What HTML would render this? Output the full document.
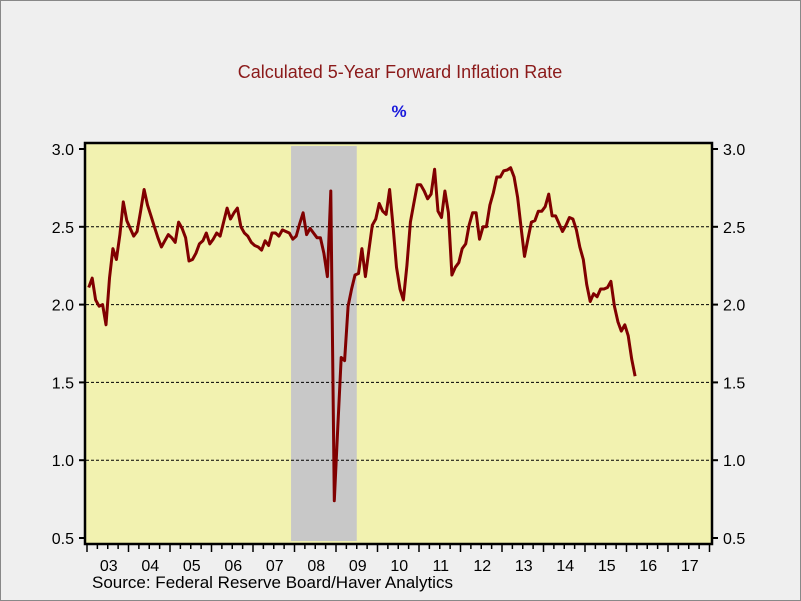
<!DOCTYPE html>
<html><head><meta charset="utf-8"><style>
html,body{margin:0;padding:0;background:#efefef;}
svg{display:block;font-family:"Liberation Sans",Arial,sans-serif;}
</style></head><body>
<svg id="chart" width="801" height="601" viewBox="0 0 801 601" xmlns="http://www.w3.org/2000/svg">
<rect x="0.5" y="0.5" width="800" height="600" fill="#efefef" stroke="#888" stroke-width="1"/>
<text x="400" y="78" text-anchor="middle" font-size="18" fill="#8b1a1a">Calculated 5-Year Forward Inflation Rate</text>
<text x="399" y="117" text-anchor="middle" font-size="17" font-weight="bold" fill="#1a1adc">%</text>
<rect x="85" y="143" width="627" height="401" fill="#f2f2b0"/>
<g id="shade"></g>
<g id="grid"></g>
<g id="series"></g>
<rect x="85" y="143" width="627" height="401" fill="none" stroke="#000" stroke-width="2.5"/>
<g id="axes"></g>
<text x="92" y="588" font-size="17" fill="#000">Source:  Federal Reserve Board/Haver Analytics</text>
</svg>
<script>
const yTicks = [3.0, 2.5, 2.0, 1.5, 1.0, 0.5];
const yTickLabels = ["3.0","2.5","2.0","1.5","1.0","0.5"];
const gridValues = [2.5, 2.0, 1.5, 1.0];
const yearLabels = ["03","04","05","06","07","08","09","10","11","12","13","14","15","16","17"];
const startYear = 2003;
const recessionStart = 2007.917;
const recessionEnd = 2009.5;
const values = [
2.11,2.17,2.03,1.99,2.00,1.87,2.17,2.36,2.29,2.45,2.66,2.54,
2.49,2.44,2.47,2.60,2.74,2.64,2.57,2.50,2.43,2.37,2.41,2.45,
2.43,2.40,2.53,2.49,2.43,2.28,2.29,2.33,2.39,2.41,2.46,2.39,
2.42,2.46,2.44,2.53,2.62,2.55,2.59,2.62,2.50,2.46,2.44,2.40,
2.38,2.37,2.35,2.41,2.38,2.46,2.46,2.44,2.48,2.47,2.46,2.42,
2.44,2.52,2.59,2.45,2.49,2.46,2.43,2.43,2.33,2.18,2.73,0.74,
1.20,1.66,1.64,1.99,2.10,2.19,2.20,2.36,2.18,2.35,2.51,2.55,
2.65,2.60,2.58,2.74,2.50,2.24,2.10,2.03,2.25,2.53,2.65,2.77,
2.77,2.73,2.68,2.71,2.87,2.60,2.56,2.73,2.59,2.19,2.24,2.27,
2.36,2.39,2.51,2.59,2.59,2.42,2.50,2.50,2.64,2.72,2.82,2.82,
2.86,2.865,2.88,2.82,2.69,2.50,2.31,2.42,2.53,2.54,2.60,2.60,
2.63,2.71,2.57,2.57,2.52,2.47,2.51,2.56,2.55,2.48,2.37,2.29,
2.13,2.02,2.07,2.05,2.10,2.10,2.11,2.15,1.99,1.89,1.83,1.87,
1.80,1.65,1.54
];
const NS = "http://www.w3.org/2000/svg";
const X0 = 87, YW = 41.5;
function xScale(t){ return X0 + (t - startYear) * YW; }
function yScale(v){ return 149 + (3.0 - v) * 155.6; }
function mk(tag, attrs, parent){ const e = document.createElementNS(NS, tag); for (const k in attrs) e.setAttribute(k, attrs[k]); parent.appendChild(e); return e; }

const shade = document.getElementById('shade');
const r = mk('rect', {x: xScale(recessionStart), y: 146, width: xScale(recessionEnd) - xScale(recessionStart), height: 395, fill: '#c8c8c8'}, shade);



const grid = document.getElementById('grid');
gridValues.forEach(v => {
  const l = mk('line', {x1: 86, x2: 711, y1: yScale(v), y2: yScale(v), stroke: '#000', 'stroke-width': 1, 'stroke-dasharray': '3,2'}, grid);
  
  
});

const series = document.getElementById('series');
const pts = values.map((v, i) => xScale(startYear + (i + 0.5) / 12).toFixed(1) + ',' + yScale(v).toFixed(1)).join(' ');
const line = mk('polyline', {points: pts, fill: 'none', stroke: '#800000', 'stroke-width': 3, 'stroke-linejoin': 'round'}, series);



const axes = document.getElementById('axes');
yTicks.forEach((v, i) => {
  const y = yScale(v);
  const tl = mk('line', {x1: 79, x2: 85, y1: y, y2: y, stroke: '#000', 'stroke-width': 2}, axes);
  
  
  const tr = mk('line', {x1: 712, x2: 718, y1: y, y2: y, stroke: '#000', 'stroke-width': 2}, axes);
  
  
  const a = mk('text', {x: 74, y: y + 6, 'text-anchor': 'end', 'font-size': 16, fill: '#000'}, axes);
  a.textContent = yTickLabels[i];
  
  
  const b = mk('text', {x: 723, y: y + 6, 'text-anchor': 'start', 'font-size': 16, fill: '#000'}, axes);
  b.textContent = yTickLabels[i];
  
  
});
for (let q = 0; q <= yearLabels.length * 4; q++) {
  const x = xScale(startYear + q / 4);
  const major = q % 4 === 0;
  const t = mk('line', {x1: x, x2: x, y1: 545, y2: major ? 552 : 549, stroke: '#000', 'stroke-width': 1.5}, axes);
  
  
}
yearLabels.forEach((lab, i) => {
  const t = mk('text', {x: xScale(startYear + i + 0.5) + 1, y: 571, 'text-anchor': 'middle', 'font-size': 16, fill: '#000'}, axes);
  t.textContent = lab;
  
  
});
</script>
</body></html>
